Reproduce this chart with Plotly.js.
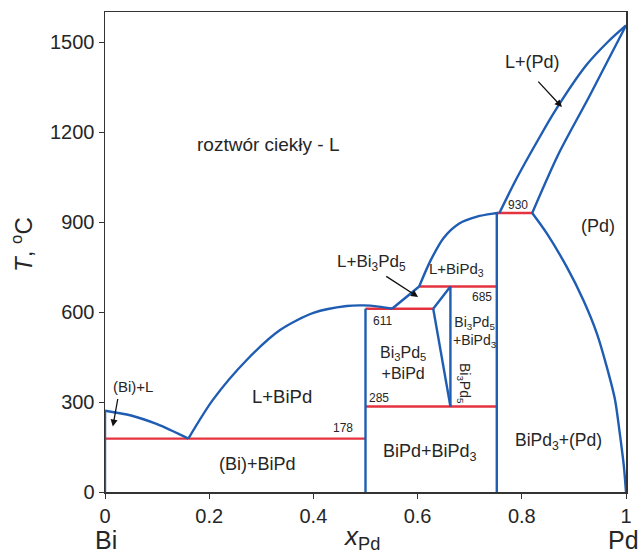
<!DOCTYPE html>
<html>
<head>
<meta charset="utf-8">
<script src="https://cdn.plot.ly/plotly-3.0.1.min.js"></script>
<style>html,body{margin:0;padding:0;background:#fff;}#chart{width:643px;height:558px;}</style>
</head>
<body>
<div id="chart"></div>
<script>
// ---- data (x = mole fraction Pd, T in °C) ----
const liqBiX = [0, 0.05, 0.1, 0.16];
const liqBiT = [271, 255, 226, 178];

const liqBiPdX = [0.16, 0.207, 0.272, 0.336, 0.40, 0.464, 0.496, 0.525, 0.551];
const liqBiPdT = [178, 307, 440, 540, 597, 620, 622, 618, 611];

const liqBi3Pd5X = [0.551, 0.603];
const liqBi3Pd5T = [611, 685];

const liqBiPd3X = [0.603, 0.625, 0.65, 0.68, 0.714, 0.745, 0.755];
const liqBiPd3T = [685, 772, 847, 895, 918, 928, 930];

const liqPdX = [0.757, 0.79, 0.83, 0.863, 0.924, 0.965, 1];
const liqPdT = [930, 1045, 1170, 1268, 1423, 1500, 1555];

const solPdX = [0.82, 0.87, 0.93, 1];
const solPdT = [930, 1125, 1320, 1555];

const solvPdX = [0.82, 0.848, 0.886, 0.918, 0.944, 0.963, 0.979, 0.988, 0.996, 1];
const solvPdT = [930, 862, 751, 640, 529, 418, 307, 196, 84, 0];

const bi3pd5LowX = [0.63, 0.663];
const bi3pd5LowT = [611, 285];
const bi3pd5UpX = [0.63, 0.663];
const bi3pd5UpT = [611, 685];
const bi3pd5RightX = [0.663, 0.663];
const bi3pd5RightT = [285, 685];

const biSolX = [0, 0];
const biSolT = [0, 271];
const biPdX = [0.5, 0.5];
const biPdT = [0, 611];
const biPd3X = [0.752, 0.752];
const biPd3T = [0, 930];

// invariant isotherms: temperature and composition span
const isoT = [178, 285, 611, 685, 930];
const isoX0 = [0, 0.5, 0.5, 0.603, 0.752];
const isoX1 = [0.5, 0.752, 0.63, 0.752, 0.82];

const xTickVals = [0, 0.2, 0.4, 0.6, 0.8, 1];
const xTickText = ['0', '0.2', '0.4', '0.6', '0.8', '1'];
const yTickVals = [0, 300, 600, 900, 1200, 1500];

const phaseLabels = ['roztwór ciekły - L', 'L+(Pd)', '(Pd)', 'L+BiPd<sub>3</sub>',
  'L+Bi<sub>3</sub>Pd<sub>5</sub>', 'Bi<sub>3</sub>Pd<sub>5</sub><br>+BiPd',
  'Bi<sub>3</sub>Pd<sub>5</sub><br>+BiPd<sub>3</sub>', 'Bi<sub>3</sub>Pd<sub>5</sub>',
  'L+BiPd', '(Bi)+BiPd', 'BiPd+BiPd<sub>3</sub>', 'BiPd<sub>3</sub>+(Pd)', '(Bi)+L', '(Bi)'];

// ---- build traces ----
const BLUE = '#1f5db3';
const RED = '#e5323f';
const traces = [];
for (let i = 0; i < isoT.length; i++) {
  traces.push({x: [isoX0[i], isoX1[i]], y: [isoT[i], isoT[i]], mode: 'lines',
    line: {color: RED, width: 2.4}, hoverinfo: 'skip', cliponaxis: false});
}
const blueSets = [
  [liqBiX, liqBiT, 'spline'], [liqBiPdX, liqBiPdT, 'spline'], [liqBi3Pd5X, liqBi3Pd5T, 'linear'],
  [liqBiPd3X, liqBiPd3T, 'spline'], [liqPdX, liqPdT, 'spline'], [solPdX, solPdT, 'spline'],
  [solvPdX, solvPdT, 'spline'], [bi3pd5LowX, bi3pd5LowT, 'linear'], [bi3pd5UpX, bi3pd5UpT, 'linear'],
  [bi3pd5RightX, bi3pd5RightT, 'linear'], [biSolX, biSolT, 'linear'], [biPdX, biPdT, 'linear'],
  [biPd3X, biPd3T, 'linear']
];
blueSets.forEach(s => traces.push({x: s[0], y: s[1], mode: 'lines',
  line: {color: BLUE, width: 2.4, shape: s[2], smoothing: 0.8}, hoverinfo: 'skip', cliponaxis: false}));

const TXT = '#262626';
const F = 'Liberation Sans, Arial, sans-serif';
function lab(text, x, y, size, extra) {
  return Object.assign({text: text, x: x, y: y, xref: 'x', yref: 'y', showarrow: false,
    xanchor: 'center', yanchor: 'middle',
    font: {family: F, size: size, color: TXT}}, extra || {});
}
function arrow(x, y, ax, ay) {
  return {text: '', x: x, y: y, ax: ax, ay: ay, xref: 'x', yref: 'y', axref: 'x', ayref: 'y',
    showarrow: true, arrowhead: 2, arrowsize: 1.1, arrowwidth: 1.3, arrowcolor: '#111'};
}
function plab(text, x, y, size, extra) {
  return Object.assign({text: text, x: x, y: y, xref: 'paper', yref: 'paper', showarrow: false,
    xanchor: 'center', yanchor: 'middle',
    font: {family: F, size: size, color: TXT}}, extra || {});
}
const ann = [
  lab(phaseLabels[0], 0.313, 1157, 19),
  lab(phaseLabels[1], 0.82, 1433, 18),
  arrow(0.877, 1283, 0.829, 1373),
  lab(phaseLabels[2], 0.946, 887, 18),
  lab(String(isoT[4]), 0.793, 958, 12),
  lab(phaseLabels[3], 0.674, 742, 15),
  lab(String(isoT[3]), 0.724, 650, 12),
  lab(phaseLabels[4], 0.512, 762, 17),
  arrow(0.601, 650, 0.537, 722),
  lab(String(isoT[2]), 0.533, 570, 12),
  lab(phaseLabels[5], 0.572, 430, 16),
  lab(phaseLabels[6], 0.71, 535, 14),
  lab(phaseLabels[7], 0.688, 362, 14, {textangle: 90}),
  lab(String(isoT[1]), 0.526, 313, 12),
  lab(phaseLabels[8], 0.34, 320, 18.5),
  lab(String(isoT[0]), 0.457, 213, 12),
  lab(phaseLabels[9], 0.292, 93, 18),
  lab(phaseLabels[10], 0.624, 133, 18),
  lab(phaseLabels[11], 0.87, 170, 17.5),
  lab(phaseLabels[12], 0.054, 352, 15),
  arrow(0.015, 218, 0.025, 315),
  lab(phaseLabels[13], -0.036, 130, 15),
  plab('Bi', 0.002, -0.134, 25, {yanchor: 'bottom'}),
  plab('Pd', 1.0, -0.134, 25, {yanchor: 'bottom', xanchor: 'right', x: 1.029}),
  plab('<i>x</i><sub>Pd</sub>', 0.493, -0.134, 26, {yanchor: 'bottom'}),
  plab('<i>T</i>, <sup>o</sup>C', -0.159, 0.515, 24, {textangle: -90})
];

const layout = {
  width: 643, height: 558,
  margin: {l: 105, r: 17, t: 12, b: 66},
  paper_bgcolor: '#fff', plot_bgcolor: '#fff',
  showlegend: false,
  xaxis: {range: [0, 1], showgrid: false, zeroline: false, showline: true, mirror: true,
    linecolor: '#333', linewidth: 1.5, ticks: 'outside', ticklen: 5, tickcolor: '#333',
    tickvals: xTickVals, ticktext: xTickText, tickfont: {family: F, size: 20, color: TXT}},
  yaxis: {range: [0, 1600], showgrid: false, zeroline: false, showline: true, mirror: true,
    linecolor: '#333', linewidth: 1.5, ticks: 'outside', ticklen: 5, tickcolor: '#333',
    tickvals: yTickVals, tickfont: {family: F, size: 20, color: TXT}},
  annotations: ann
};
Plotly.newPlot('chart', traces, layout, {displayModeBar: false, staticPlot: true});
</script>
</body>
</html>
